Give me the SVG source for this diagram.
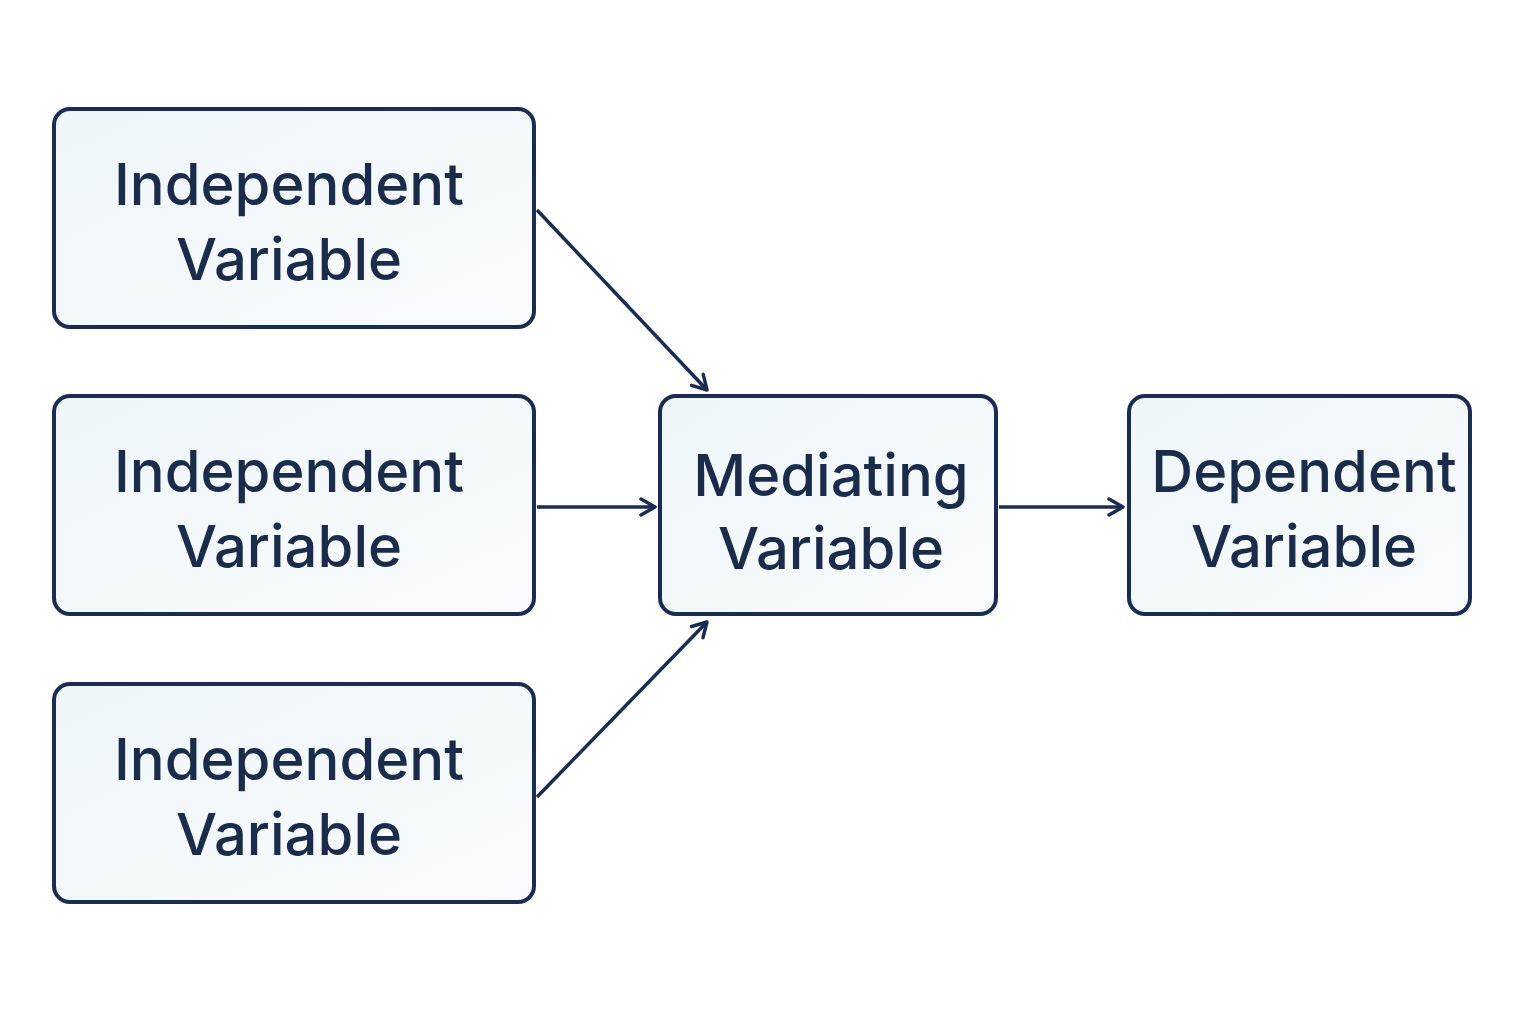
<svg xmlns="http://www.w3.org/2000/svg" width="1536" height="1024" viewBox="0 0 1536 1024">
<defs>
<linearGradient id="g" x1="0" y1="0" x2="1" y2="1"><stop offset="0" stop-color="#eef6f9"/><stop offset="1" stop-color="#f8fbfd"/></linearGradient>
<marker id="a" markerWidth="20" markerHeight="20" refX="17" refY="10" orient="auto" markerUnits="userSpaceOnUse"><path d="M3,2 L17,10 L3,18" fill="none" stroke="#1b2c52" stroke-width="3.5" stroke-linecap="round" stroke-linejoin="round"/></marker>
<style>
.n{fill:url(#g);stroke:#1b2c52;stroke-width:4}
.t{font-family:Inter,"Noto Sans",sans-serif;font-size:58px;font-weight:500;fill:#1b2c4a;text-anchor:middle}
.c{stroke:#1b2c52;stroke-width:3.5;fill:none;marker-end:url(#a)}
</style>
</defs>
<rect width="1536" height="1024" fill="#fff"/>
<g id="iv1"><rect class="n" x="54" y="109" width="480" height="218" rx="16"/><text class="t" x="289" y="205">Independent</text><text class="t" x="289" y="280">Variable</text></g>
<g id="iv2"><rect class="n" x="54" y="396" width="480" height="218" rx="16"/><text class="t" x="289" y="492">Independent</text><text class="t" x="289" y="567">Variable</text></g>
<g id="iv3"><rect class="n" x="54" y="684" width="480" height="218" rx="16"/><text class="t" x="289" y="780">Independent</text><text class="t" x="289" y="855">Variable</text></g>
<g id="mv"><rect class="n" x="660" y="396" width="336" height="218" rx="16"/><text class="t" x="831" y="496">Mediating</text><text class="t" x="831" y="569">Variable</text></g>
<g id="dv"><rect class="n" x="1129" y="396" width="341" height="218" rx="16"/><text class="t" x="1304" y="492">Dependent</text><text class="t" x="1304" y="567">Variable</text></g>
<g id="connectors">
<line class="c" x1="537" y1="210" x2="707" y2="390"/>
<line class="c" x1="537" y1="507" x2="655" y2="507"/>
<line class="c" x1="537" y1="797" x2="707" y2="622"/>
<line class="c" x1="999" y1="507" x2="1123" y2="507"/>
</g>
</svg>
